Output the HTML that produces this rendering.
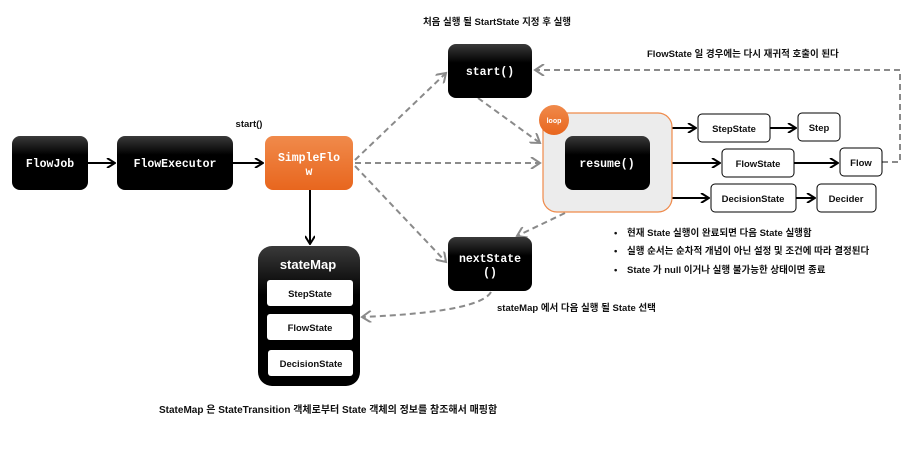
<!DOCTYPE html>
<html><head><meta charset="utf-8"><style>
html,body{margin:0;padding:0;background:#fff;}
svg{display:block;}
text{font-family:"Liberation Sans","Noto Sans CJK KR",sans-serif;font-weight:bold;}
.m{font-family:"Liberation Mono","Noto Sans CJK KR",monospace;font-weight:bold;fill:#fff;font-size:11.5px;}
.s{font-size:9.5px;fill:#111;}
.d{stroke:#8a8a8a;stroke-width:2;stroke-dasharray:6,4;fill:none;}
.k{stroke:#000;stroke-width:2;fill:none;}
</style></head><body>
<svg width="917" height="467" viewBox="0 0 917 467" xmlns="http://www.w3.org/2000/svg">
<defs>
<linearGradient id="bk" x1="0" y1="0" x2="0" y2="1"><stop offset="0" stop-color="#3a3a3a"/><stop offset="0.35" stop-color="#000"/><stop offset="1" stop-color="#000"/></linearGradient>
<linearGradient id="or" x1="0" y1="0" x2="0" y2="1"><stop offset="0" stop-color="#f08a4b"/><stop offset="1" stop-color="#e8661e"/></linearGradient>
<marker id="ak" markerWidth="10" markerHeight="10" refX="9" refY="5" orient="auto" markerUnits="userSpaceOnUse"><path d="M1,0 L9,5 L1,10" fill="none" stroke="#000" stroke-width="2"/></marker>
<marker id="ag" markerWidth="12" markerHeight="12" refX="10" refY="6" orient="auto" markerUnits="userSpaceOnUse"><path d="M1,0 L10,6 L1,12" fill="none" stroke="#8a8a8a" stroke-width="2"/></marker>
</defs>

<text x="497" y="25" class="s" text-anchor="middle">처음 실행 될 StartState 지정 후 실행</text>
<text x="647" y="57" class="s">FlowState 일 경우에는 다시 재귀적 호출이 된다</text>
<text x="249" y="127" class="s" text-anchor="middle">start()</text>

<path class="d" d="M355,160 L446,73" marker-end="url(#ag)"/>
<path class="d" d="M355,163 L540,163" marker-end="url(#ag)"/>
<path class="d" d="M355,166 L446,262" marker-end="url(#ag)"/>
<path class="d" d="M478,98 L540,143" marker-end="url(#ag)"/>
<path class="d" d="M565,213 L517,236" marker-end="url(#ag)"/>
<path class="d" d="M491,292 Q480,312 362,317" marker-end="url(#ag)"/>
<path class="d" d="M882,162 L900,162 L900,70 L535,70" marker-end="url(#ag)"/>

<path class="k" d="M88,163 L115,163" marker-end="url(#ak)"/>
<path class="k" d="M233,163 L263,163" marker-end="url(#ak)"/>
<path class="k" d="M310,190 L310,244" marker-end="url(#ak)"/>
<path class="k" d="M672,128 L696,128" marker-end="url(#ak)"/>
<path class="k" d="M770,128 L796,128" marker-end="url(#ak)"/>
<path class="k" d="M672,163 L720,163" marker-end="url(#ak)"/>
<path class="k" d="M794,163 L838,163" marker-end="url(#ak)"/>
<path class="k" d="M672,198 L709,198" marker-end="url(#ak)"/>
<path class="k" d="M796,198 L815,198" marker-end="url(#ak)"/>

<rect x="12" y="136" width="76" height="54" rx="8" fill="url(#bk)"/>
<text x="50" y="167" class="m" text-anchor="middle">FlowJob</text>
<rect x="117" y="136" width="116" height="54" rx="8" fill="url(#bk)"/>
<text x="175" y="167" class="m" text-anchor="middle">FlowExecutor</text>
<rect x="265" y="136" width="88" height="54" rx="8" fill="url(#or)"/>
<text x="309" y="161" class="m" text-anchor="middle">SimpleFlo</text>
<text x="309" y="175" class="m" text-anchor="middle">w</text>

<rect x="258" y="246" width="102" height="140" rx="14" fill="url(#bk)"/>
<text x="308" y="269" text-anchor="middle" style="font-size:13px;fill:#fff">stateMap</text>
<rect x="267" y="280" width="86" height="26" rx="3" fill="#fff"/>
<text x="310" y="297" class="s" text-anchor="middle">StepState</text>
<rect x="267" y="314" width="86" height="26" rx="3" fill="#fff"/>
<text x="310" y="331" class="s" text-anchor="middle">FlowState</text>
<rect x="268" y="350" width="85" height="26" rx="3" fill="#fff"/>
<text x="311" y="367" class="s" text-anchor="middle">DecisionState</text>

<rect x="448" y="44" width="84" height="54" rx="8" fill="url(#bk)"/>
<text x="490" y="75" class="m" text-anchor="middle">start()</text>

<rect x="543" y="113" width="129" height="99" rx="14" fill="#ececec" stroke="#ef8a4a" stroke-width="1.2"/>
<circle cx="554" cy="120" r="15" fill="url(#or)"/>
<text x="554" y="123" text-anchor="middle" style="font-size:7px;fill:#fff">loop</text>
<rect x="565" y="136" width="85" height="54" rx="8" fill="url(#bk)"/>
<text x="607" y="167" class="m" text-anchor="middle">resume()</text>

<rect x="448" y="237" width="84" height="54" rx="8" fill="url(#bk)"/>
<text x="490" y="262" class="m" text-anchor="middle">nextState</text>
<text x="490" y="276" class="m" text-anchor="middle">()</text>

<rect x="698" y="114" width="72" height="28" rx="4" fill="#fff" stroke="#000"/>
<text x="734" y="132" class="s" text-anchor="middle">StepState</text>
<rect x="798" y="113" width="42" height="28" rx="4" fill="#fff" stroke="#000"/>
<text x="819" y="131" class="s" text-anchor="middle">Step</text>
<rect x="722" y="149" width="72" height="28" rx="4" fill="#fff" stroke="#000"/>
<text x="758" y="167" class="s" text-anchor="middle">FlowState</text>
<rect x="840" y="148" width="42" height="28" rx="4" fill="#fff" stroke="#000"/>
<text x="861" y="166" class="s" text-anchor="middle">Flow</text>
<rect x="711" y="184" width="85" height="28" rx="4" fill="#fff" stroke="#000"/>
<text x="753" y="202" class="s" text-anchor="middle">DecisionState</text>
<rect x="817" y="184" width="59" height="28" rx="4" fill="#fff" stroke="#000"/>
<text x="846" y="202" class="s" text-anchor="middle">Decider</text>

<text x="614" y="236" class="s">•</text>
<text x="627" y="236" class="s">현재 State 실행이 완료되면 다음 State 실행함</text>
<text x="614" y="254" class="s">•</text>
<text x="627" y="254" class="s">실행 순서는 순차적 개념이 아닌 설정 및 조건에 따라 결정된다</text>
<text x="614" y="273" class="s">•</text>
<text x="627" y="273" class="s">State  가 null 이거나 실행 불가능한 상태이면 종료</text>

<text x="497" y="311" class="s">stateMap 에서 다음 실행 될 State 선택</text>
<text x="159" y="413" class="s" style="font-size:10px">StateMap 은 StateTransition 객체로부터 State 객체의 정보를  참조해서 매핑함</text>
</svg>
</body></html>
